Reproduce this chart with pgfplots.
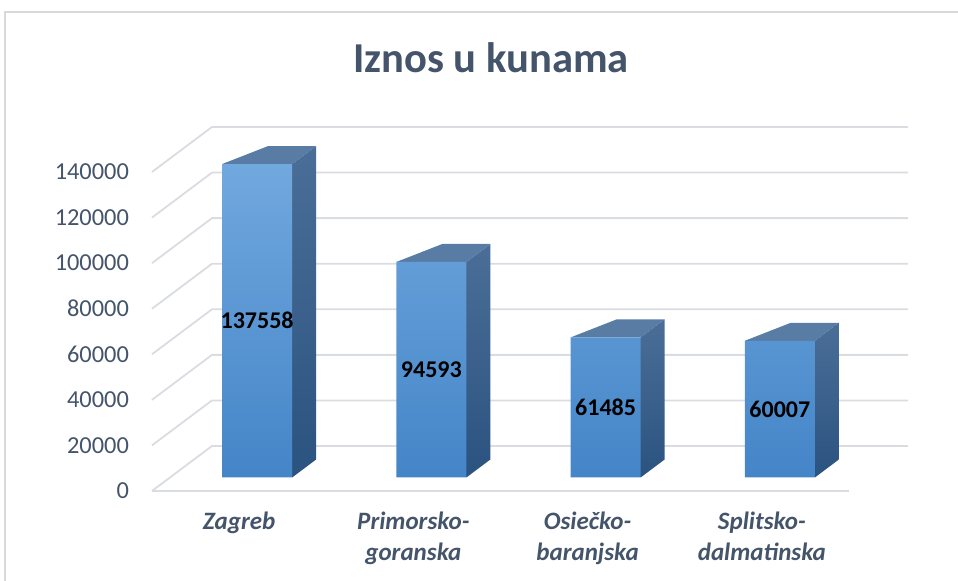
\documentclass[border=0pt]{standalone}
\usepackage{pgfplots}
\usepackage{pgfplotstable}
\pgfplotsset{compat=1.18}
\usepackage{fontspec}
\setmainfont{Carlito}
\definecolor{txt}{HTML}{44546A}
\definecolor{gridc}{HTML}{D9DCE1}
\definecolor{frameC}{HTML}{D9D9D9}
\definecolor{frontT}{HTML}{71A8DE}
\definecolor{frontB}{HTML}{4485C8}
\definecolor{sideT}{HTML}{4A6E97}
\definecolor{sideB}{HTML}{2B5380}
\definecolor{topF}{HTML}{587CA4}

\pgfplotstableread{
x v
0 137558
1 94593
2 61485
3 60007
}\datatable

\begin{document}
\begin{tikzpicture}
\begin{axis}[
  scale only axis, width=378bp, height=182bp,
  xmin=-0.6032, xmax=3.7355, ymin=-5925, ymax=153824,
  axis line style={draw=none}, major tick length=0pt,
  clip=false, scaled y ticks=false,
  ytick={-5925,14075,34075,54075,74075,94075,114075,134075},
  yticklabels={0,20000,40000,60000,80000,100000,120000,140000},
  yticklabel style={font=\fontsize{12.2bp}{14bp}\selectfont, text=txt, anchor=east, xshift=-8bp},
  /pgf/number format/assume math mode=true,
  xtick={-0.1033,0.8967,1.8967,2.8967},
  xticklabels={Zagreb,{Primorsko-\\goranska},{Osiečko-\\baranjska},{Splitsko-\\dalmatinska}},
  xticklabel style={font=\fontsize{12.5bp}{15.5bp}\selectfont\bfseries\itshape, text=txt, align=center, anchor=north, yshift=-6.8bp},
]
% gridlines (side wall + back wall)
\addplot[gridc, line width=0.9bp] coordinates {(-0.6032,-5925) (-0.2589,13824) (3.7355,13824)};
\addplot[gridc, line width=0.9bp] coordinates {(-0.6032,14075) (-0.2589,33824) (3.7355,33824)};
\addplot[gridc, line width=0.9bp] coordinates {(-0.6032,34075) (-0.2589,53824) (3.7355,53824)};
\addplot[gridc, line width=0.9bp] coordinates {(-0.6032,54075) (-0.2589,73824) (3.7355,73824)};
\addplot[gridc, line width=0.9bp] coordinates {(-0.6032,74075) (-0.2589,93824) (3.7355,93824)};
\addplot[gridc, line width=0.9bp] coordinates {(-0.6032,94075) (-0.2589,113824) (3.7355,113824)};
\addplot[gridc, line width=0.9bp] coordinates {(-0.6032,114075) (-0.2589,133824) (3.7355,133824)};
\addplot[gridc, line width=0.9bp] coordinates {(-0.6032,134075) (-0.2589,153824) (3.7355,153824)};
% floor front edge
\addplot[gridc, line width=0.9bp] coordinates {(-0.6032,-5925) (3.3969,-5925)};
% side faces
\addplot[draw=none, top color=sideT, bottom color=sideB] coordinates {(0.2009,0) (0.2009,137558) (0.3386,145458) (0.3386,7900)} -- cycle;
\addplot[draw=none, top color=sideT, bottom color=sideB] coordinates {(1.2009,0) (1.2009,94593) (1.3386,102493) (1.3386,7900)} -- cycle;
\addplot[draw=none, top color=sideT, bottom color=sideB] coordinates {(2.2009,0) (2.2009,61485) (2.3386,69385) (2.3386,7900)} -- cycle;
\addplot[draw=none, top color=sideT, bottom color=sideB] coordinates {(3.2009,0) (3.2009,60007) (3.3386,67907) (3.3386,7900)} -- cycle;
% top faces
\addplot[draw=none, fill=topF] coordinates {(-0.2009,137558) (0.2009,137558) (0.3386,145458) (0.0632,145458)} -- cycle;
\addplot[draw=none, fill=topF] coordinates {(0.7991,94593) (1.2009,94593) (1.3386,102493) (1.0632,102493)} -- cycle;
\addplot[draw=none, fill=topF] coordinates {(1.7991,61485) (2.2009,61485) (2.3386,69385) (2.0632,69385)} -- cycle;
\addplot[draw=none, fill=topF] coordinates {(2.7991,60007) (3.2009,60007) (3.3386,67907) (3.0632,67907)} -- cycle;
% front faces
\addplot[ybar, bar width=0.4017, bar shift=0pt, draw=none, top color=frontT, bottom color=frontB] table[x=x,y=v]{\datatable};
% data labels
\addplot[draw=none, mark=none, point meta=explicit symbolic, nodes near coords, nodes near coords align=center,
  every node near coord/.append style={font=\fontsize{12bp}{14bp}\selectfont\bfseries, text=black, anchor=center}]
  table[x=x, y expr=\thisrow{v}/2, meta=v]{\datatable};
\end{axis}
\draw[frameC, line width=0.8bp] (-73.5bp,-60bp) -- (-73.5bp,239.5bp) -- (420bp,239.5bp);
\node[font=\fontsize{21.3bp}{25bp}\selectfont\bfseries, text=txt] at (169.5bp,216.5bp) {Iznos u kunama};
\pgfresetboundingbox
\useasboundingbox (-76bp,-45bp) rectangle (403bp,245.5bp);
\end{tikzpicture}
\end{document}
